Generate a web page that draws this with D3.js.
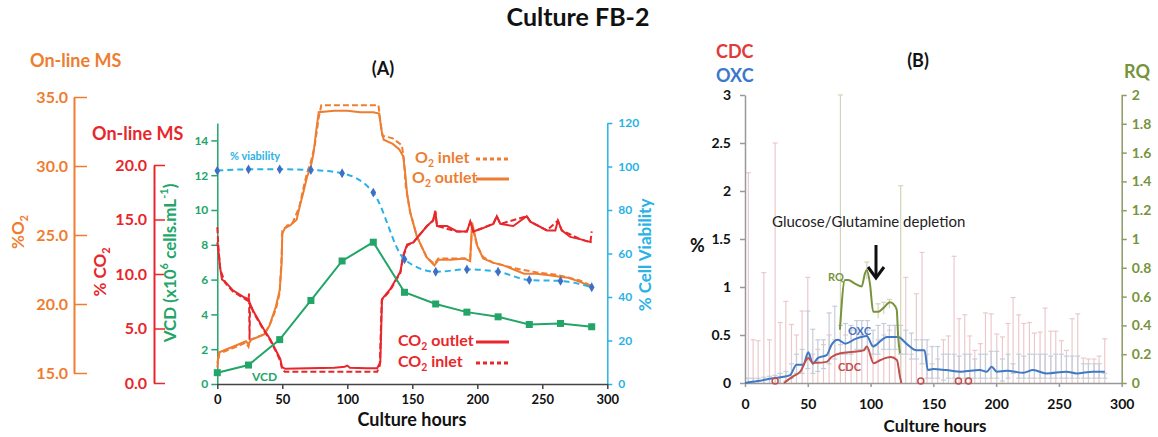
<!DOCTYPE html>
<html>
<head>
<meta charset="utf-8">
<script src="https://cdn.jsdelivr.net/npm/d3@7"></script>
<style>
  body { margin: 0; background: #fff; }
  text { font-family: Lato, "Open Sans", sans-serif; }
</style>
</head>
<body>
<div id="graph"></div>
<script>
// ---- panel A data ----
const sampleHours = [0, 24, 48, 72, 96, 120, 144, 168, 192, 216, 240, 264, 288]
const vcd = [0.65, 1.09, 2.55, 4.8, 7.07, 8.15, 5.27, 4.6, 4.13, 3.86, 3.42, 3.48, 3.29]
const viability = [98.1, 98.7, 98.7, 98.4, 96.9, 88.0, 57.3, 51.6, 52.7, 51.6, 47.8, 47.4, 44.5]

// on-line MS, [hour, %]
const o2Outlet = [[0,15.7],[1.5,16.5],[12,16.9],[22,17.3],[24,17.1],[26,17.4],[36,17.8],[40,18.4],[45,19.8],[48,21.0],[49.5,23.0],[50,25.1],[52,25.5],[56,25.7],[61,26.1],[64,27.3],[66,28.0],[69,29.2],[72,30.0],[74,30.9],[76,32.5],[78,33.9],[90,34.0],[100,34.0],[110,33.9],[120,33.9],[124.5,33.8],[126.5,32.5],[128,31.9],[135,31.6],[140,31.2],[143,30.7],[144.5,29.5],[146,28.0],[148.5,26.6],[153.5,24.9],[161,23.4],[167,22.8],[170,23.2],[180,23.2],[190,23.3],[194.5,23.1],[196,25.9],[200,24.2],[204.5,23.3],[212,23.0],[220,22.8],[228,22.5],[236,22.2],[245,22.2],[254,22.1],[262,22.0],[270,21.9],[279,21.6],[288,21.25]]
const o2Inlet = [[0,15.4],[1.5,16.4],[12,16.8],[22,17.2],[24,16.9],[25,17.4],[36,17.8],[40,18.4],[45,19.6],[48,20.8],[49.5,23.5],[50,25.3],[54,25.7],[58,25.9],[63,27.0],[66,28.3],[69,29.5],[72,30.3],[75,31.5],[78,33.5],[80,34.4],[124,34.4],[125,33.5],[127,32.2],[135,32.0],[142,31.5],[143.5,30.5],[145,28.5],[148,26.8],[153.5,24.9],[161,23.4],[167,22.9],[170,23.3],[194.5,23.3],[196,25.6],[200,24.2],[204.5,23.4],[212,23.0],[228,22.6],[245,22.3],[262,22.1],[279,21.7],[288,21.3]]
const co2Outlet = [[0,12.9],[1,12.0],[2.3,10.5],[3.6,9.5],[6,9.3],[12,8.5],[20,7.9],[23.8,7.7],[25.4,7.2],[27.7,6.6],[35.4,5.0],[40.8,4.0],[45.9,2.8],[48.5,2.2],[49.8,1.45],[52.3,1.3],[70,1.35],[90,1.4],[98,1.5],[100,1.6],[102,1.4],[115,1.35],[123,1.35],[125.4,1.9],[126.7,7.7],[133,8.6],[140.8,10.2],[143,11.7],[146,12.7],[150.8,12.9],[161.3,14.4],[166,14.9],[167.7,15.8],[169,14.4],[176.7,14.4],[184.4,13.9],[192,13.9],[194.6,14.8],[197,13.9],[202,14.1],[212.3,14.6],[215,15.3],[217.7,14.6],[227.7,14.4],[238,15.3],[240.8,14.8],[253.6,14.0],[260,14.0],[262,14.9],[265,14.0],[271.5,13.4],[279,13.2],[288,12.9]]
const co2Inlet = [[0,14.3],[1,12.2],[2.3,10.4],[6,9.2],[12,8.4],[20,7.8],[24,7.5],[24.4,8.2],[24.8,4.0],[25.2,7.3],[27.7,6.5],[35.4,4.9],[40.8,3.9],[45.9,2.7],[48.5,2.0],[50,1.2],[52,1.04],[123,1.04],[125,1.6],[126.5,7.6],[133,8.5],[140.8,10.1],[143,11.6],[146,12.6],[150.8,12.9],[161.3,14.4],[166,14.9],[167.7,15.7],[169,14.4],[184.4,13.9],[192,13.9],[194.6,14.8],[197,13.9],[212.3,14.6],[215,15.3],[217.7,14.6],[238,15.3],[240.8,14.8],[253.6,14.0],[262,14.9],[265,14.0],[279,13.2],[287,12.9],[288,13.9]]

// ---- panel B data ----
const oxc = [[0,0.0],[10,0.02],[22.5,0.05],[30.5,0.065],[36,0.083],[41,0.19],[46.4,0.19],[50.4,0.32],[54,0.2],[58,0.26],[65,0.29],[69,0.4],[74,0.45],[80,0.41],[88,0.46],[97,0.49],[102,0.38],[109,0.45],[113,0.48],[122,0.48],[128.5,0.41],[136.5,0.34],[143,0.34],[145.6,0.135],[150,0.146],[160,0.135],[172.5,0.118],[187,0.135],[192.5,0.118],[196.4,0.17],[200.4,0.118],[208.4,0.128],[221.6,0.107],[229.5,0.135],[240,0.1],[256,0.118],[264,0.1],[277,0.118],[286.6,0.118]]
const cdc = [[31,0],[38,0.066],[44,0.118],[50.4,0.26],[54,0.21],[57,0.21],[65,0.22],[69,0.27],[76,0.31],[86.5,0.325],[94.5,0.34],[97,0.38],[102.5,0.205],[108,0.24],[116,0.27],[121,0.24],[123.4,0.066],[124.5,0]]
const cdcBlips = [24, 140, 170, 178]
const rq = [[75.6,0.37],[79.6,0.715],[82.2,0.715],[87.6,0.69],[92.9,0.67],[95.5,0.76],[96.9,0.785],[99.5,0.69],[102.1,0.495],[106.1,0.495],[110.1,0.52],[115.4,0.56],[118,0.55],[120.8,0.51],[122,0.32],[123.4,0.206]]

// error bars (hour, CDC upper, OXC lower, OXC upper)
const errHours = [2.7,6.5,10.5,15,19.5,24,28,32.5,37,41,45.5,50,54,58,62.5,67,71.5,76,80,84.5,89,93,97.5,102,106,110.5,115,119.5,124,128,132.5,136.5,141,145,149,153.5,158,162,166.5,170.5,175,179,183,187.5,191.5,196,200.5,205,209.5,213.5,218,222,226.5,230.5,235,239,243.5,247.5,252,256,260.5,265,269.5,273.5,278,282,286.5]
const cdcErrHi = [2.19,0.45,0.44,1.15,0.45,2.5,0.63,0.85,0.61,0.5,0.75,1.1,0.3,0.35,0.4,0.5,0.45,0.4,0.5,0.55,0.55,0.5,0.55,0.4,0.45,0.5,0.55,0.6,0.3,1.1,0.3,0.93,1.36,0.3,0.2,0.25,0.45,0.49,1.32,0.67,0.71,0.49,0.34,0.41,0.73,0.72,0.51,0.48,0.62,0.89,0.71,0.62,0.63,0.52,0.53,0.78,0.54,0.54,0.44,0.34,0.67,0.72,0.26,0.25,0.25,0.28,0.46]
const oxcErrLo = [0,0,0,0,0,0,0,0.02,0.05,0.1,0.1,0.15,0.1,0.12,0.15,0.2,0.25,0.3,0.3,0.3,0.35,0.35,0.35,0.3,0.3,0.35,0.35,0.35,0.3,0.3,0.25,0.25,0.2,0.05,0.05,0.05,0.03,0.05,0.05,0.05,0.05,0.05,0.05,0.05,0.05,0.05,0.05,0.02,0.05,0.1,0.05,0.05,0.05,0.05,0.05,0.05,0.05,0.05,0.05,0.05,0.05,0.05,0.05,0.05,0.05,0.05,0.05]
const oxcErrHi = [0.05,0.05,0.05,0.06,0.07,0.08,0.1,0.12,0.2,0.3,0.35,0.75,0.56,0.45,0.45,0.73,0.8,0.6,0.62,0.6,0.65,0.65,0.65,0.55,0.6,0.62,0.6,0.6,0.6,0.55,0.52,0.45,0.45,0.45,0.38,0.38,0.3,0.3,0.3,0.28,0.3,0.3,0.25,0.3,0.3,0.33,0.33,0.25,0.3,0.2,0.3,0.28,0.3,0.3,0.3,0.3,0.28,0.3,0.3,0.28,0.28,0.28,0.2,0.2,0.2,0.2,0.1]
const rqErrHours = [76, 97, 106, 110.5, 115, 124]
const rqErrLo = [0.3, 0.72, 0.45, 0.48, 0.52, 0]
const rqErrHi = [2.0, 0.84, 0.55, 0.56, 0.58, 1.37]

const hourTicks = [0, 50, 100, 150, 200, 250, 300]

const orange = '#ee7d31'
const red = '#e8262b'
const green = '#22a567'
const sky = '#29b2e6'
const oxcBlue = '#3f78c4'
const cdcRed = '#c0504d'
const rqGreen = '#77933c'

const svg = d3.select('#graph').append('svg')
  .attr('width', 1158)
  .attr('height', 437)
  .style('background', '#fff')

// scales, panel A
const xA = d3.scaleLinear().domain([0, 300]).range([217.3, 607.3])
const yVcd = d3.scaleLinear().domain([0, 15]).range([384, 123])
const yVia = d3.scaleLinear().domain([0, 120]).range([384, 123])
const yO2 = d3.scaleLinear().domain([15, 35]).range([373, 97])
const yCo2 = d3.scaleLinear().domain([0, 20]).range([383, 165])

// scales, panel B
const xB = d3.scaleLinear().domain([0, 300]).range([745, 1121.7])
const yB = d3.scaleLinear().domain([0, 3]).range([383, 95])
const yRq = d3.scaleLinear().domain([0, 2]).range([383, 95])

// text with sub / superscripts
const rich = (t, parts, fs) => {
  let shift = 0
  parts.forEach(([s, k]) => {
    const sp = t.append('tspan').text(s)
    let want = k === 'sub' ? fs * 0.3 : k === 'sup' ? -fs * 0.4 : 0
    if (want !== shift) sp.attr('dy', want - shift)
    shift = want
    if (k) sp.attr('font-size', fs * 0.65)
  })
  return t
}

const label = (x, y, txt, size, color, weight, anchor) => {
  return svg.append('text')
    .attr('x', x).attr('y', y)
    .attr('font-size', size)
    .attr('font-weight', weight || 'bold')
    .attr('fill', color)
    .attr('text-anchor', anchor || 'start')
    .attr('dominant-baseline', 'middle')
    .text(txt)
}

const vlabel = (x, y, parts, size, color) => {
  const t = svg.append('text')
    .attr('transform', `translate(${x},${y}) rotate(-90)`)
    .attr('font-size', size)
    .attr('font-weight', 'bold')
    .attr('fill', color)
    .attr('text-anchor', 'middle')
    .attr('dominant-baseline', 'middle')
  return rich(t, parts, size)
}

const styleAxis = (g, color, size, textColor) => {
  g.select('.domain').attr('stroke', color).attr('stroke-width', 1.5)
  g.selectAll('.tick line').attr('stroke', color).attr('stroke-width', 1.5)
  g.selectAll('.tick text')
    .attr('fill', textColor || color)
    .attr('font-size', size)
    .attr('font-weight', 'bold')
    .attr('font-family', 'Lato, "Open Sans", sans-serif')
}

// title
label(578, 20, 'Culture FB-2', 25, '#111', 'bold', 'middle')
label(383, 70, '(A)', 18, '#111', 'bold', 'middle')
label(918, 62, '(B)', 18, '#111', 'bold', 'middle')

// ================= panel A =================

// O2 axis (far left)
const gO2 = svg.append('g').attr('transform', 'translate(74,0)')
  .call(d3.axisLeft(yO2).tickValues([15, 20, 25, 30, 35]).tickSizeInner(-13).tickSizeOuter(0).tickPadding(6).tickFormat(d3.format('.1f')))
styleAxis(gO2, orange, 16)
gO2.select('.domain').attr('stroke-width', 2)
label(30, 62, 'On-line MS', 18, orange)
vlabel(20, 232, [['%O', null], ['2', 'sub']], 17, orange)

// CO2 axis
const gCo2 = svg.append('g').attr('transform', 'translate(154,0)')
  .call(d3.axisLeft(yCo2).tickValues([0, 5, 10, 15, 20]).tickSizeInner(-11).tickSizeOuter(0).tickPadding(7).tickFormat(d3.format('.1f')))
styleAxis(gCo2, red, 16)
gCo2.select('.domain').attr('stroke-width', 2)
label(92, 135, 'On-line MS', 18, red)
vlabel(102, 272, [['% CO', null], ['2', 'sub']], 17, red)

// VCD axis
const gVcd = svg.append('g').attr('transform', 'translate(217.3,0)')
  .call(d3.axisLeft(yVcd).tickValues([0, 2, 4, 6, 8, 10, 12, 14]).tickSize(6).tickSizeOuter(0).tickPadding(3))
styleAxis(gVcd, green, 12)
vlabel(172, 263, [['VCD (x10', null], ['6', 'sup'], [' cells.mL', null], ['-1', 'sup'], [')', null]], 17, green)

// viability axis
const gVia = svg.append('g').attr('transform', 'translate(607.3,0)')
  .call(d3.axisRight(yVia).tickValues([0, 20, 40, 60, 80, 100, 120]).tickSize(5).tickSizeOuter(0).tickPadding(6))
styleAxis(gVia, sky, 12)
vlabel(647, 255, [['% Cell Viability', null]], 17, sky)

// hours axis
const gxA = svg.append('g').attr('transform', 'translate(0,384)')
  .call(d3.axisBottom(xA).tickValues(hourTicks).tickSize(5).tickSizeOuter(0).tickPadding(6))
styleAxis(gxA, '#444', 13, '#111')
label(412, 421, 'Culture hours', 18, '#111', 'bold', 'middle')

// lines
const lineA = (ys) => d3.line().x(d => xA(d[0])).y(d => ys(d[1]))

svg.append('path').datum(o2Outlet)
  .attr('d', lineA(yO2))
  .attr('fill', 'none').attr('stroke', orange).attr('stroke-width', 2)
svg.append('path').datum(o2Inlet)
  .attr('d', lineA(yO2))
  .attr('fill', 'none').attr('stroke', orange).attr('stroke-width', 2).attr('stroke-dasharray', '6,3')

svg.append('path').datum(co2Outlet)
  .attr('d', lineA(yCo2))
  .attr('fill', 'none').attr('stroke', red).attr('stroke-width', 2)
svg.append('path').datum(co2Inlet)
  .attr('d', lineA(yCo2))
  .attr('fill', 'none').attr('stroke', red).attr('stroke-width', 2).attr('stroke-dasharray', '6,3')

// viability dashed + diamonds
const viaPts = sampleHours.map((h, i) => [h, viability[i]])
svg.append('path').datum(viaPts)
  .attr('d', d3.line().curve(d3.curveMonotoneX).x(d => xA(d[0])).y(d => yVia(d[1])))
  .attr('fill', 'none').attr('stroke', sky).attr('stroke-width', 2).attr('stroke-dasharray', '6,4')
svg.selectAll('.via').data(viaPts).enter().append('path')
  .attr('class', 'via')
  .attr('transform', d => `translate(${xA(d[0])},${yVia(d[1])})`)
  .attr('d', d3.symbol(d3.symbolDiamond).size(28))
  .attr('fill', '#3d6fc6')

// VCD line + squares
const vcdPts = sampleHours.map((h, i) => [h, vcd[i]])
svg.append('path').datum(vcdPts)
  .attr('d', lineA(yVcd))
  .attr('fill', 'none').attr('stroke', green).attr('stroke-width', 2)
svg.selectAll('.vcd').data(vcdPts).enter().append('rect')
  .attr('class', 'vcd')
  .attr('x', d => xA(d[0]) - 3.5).attr('y', d => yVcd(d[1]) - 3.5)
  .attr('width', 7).attr('height', 7)
  .attr('fill', green)

label(230, 157, '% viability', 11, sky)
label(252, 378, 'VCD', 12, green)

// legend
const legend = (x, y, parts, color, dashed) => {
  const t = svg.append('text').attr('x', x).attr('y', y)
    .attr('font-size', 16).attr('font-weight', 'bold').attr('fill', color)
    .attr('dominant-baseline', 'middle')
  rich(t, parts, 16)
  svg.append('line')
    .attr('x1', 476).attr('x2', 509).attr('y1', y).attr('y2', y)
    .attr('stroke', color).attr('stroke-width', 3)
    .attr('stroke-dasharray', dashed ? '4,3' : null)
}
legend(415, 159, [['O', null], ['2', 'sub'], [' inlet', null]], orange, true)
legend(412, 179, [['O', null], ['2', 'sub'], [' outlet', null]], orange, false)
legend(398, 342, [['CO', null], ['2', 'sub'], [' outlet', null]], red, false)
legend(398, 363, [['CO', null], ['2', 'sub'], [' inlet', null]], red, true)

// ================= panel B =================

const errG = svg.append('g')
const bar = (x, y0, y1, color) => {
  errG.append('line').attr('x1', x).attr('x2', x).attr('y1', y0).attr('y2', y1)
    .attr('stroke', color).attr('stroke-width', 1.2)
  errG.append('line').attr('x1', x - 2.5).attr('x2', x + 2.5).attr('y1', y1).attr('y2', y1)
    .attr('stroke', color).attr('stroke-width', 1.2)
}
errHours.forEach((h, i) => {
  bar(xB(h), yB(0), yB(cdcErrHi[i]), '#ecc9cc')
})
errHours.forEach((h, i) => {
  bar(xB(h), yB(oxcErrLo[i]), yB(oxcErrHi[i]), '#c5cdd8')
  if (oxcErrLo[i] > 0) {
    errG.append('line').attr('x1', xB(h) - 2.5).attr('x2', xB(h) + 2.5)
      .attr('y1', yB(oxcErrLo[i])).attr('y2', yB(oxcErrLo[i]))
      .attr('stroke', '#c5cdd8').attr('stroke-width', 1.2)
  }
})
rqErrHours.forEach((h, i) => {
  bar(xB(h), yRq(rqErrLo[i]), yRq(rqErrHi[i]), '#d6d3b8')
})

const gyB = svg.append('g').attr('transform', 'translate(745,0)')
  .call(d3.axisLeft(yB).tickValues([0, 0.5, 1, 1.5, 2, 2.5, 3]).tickSize(5).tickSizeOuter(0).tickPadding(9).tickFormat(d3.format('~g')))
styleAxis(gyB, '#999', 14, '#111')

const gxB = svg.append('g').attr('transform', 'translate(0,383)')
  .call(d3.axisBottom(xB).tickValues(hourTicks).tickSize(4).tickSizeOuter(0).tickPadding(12))
styleAxis(gxB, '#999', 14, '#111')

const gRq = svg.append('g').attr('transform', 'translate(1121.7,0)')
  .call(d3.axisRight(yRq).tickValues([0, 0.2, 0.4, 0.6, 0.8, 1, 1.2, 1.4, 1.6, 1.8, 2]).tickSize(5).tickSizeOuter(0).tickPadding(5).tickFormat(d3.format('~g')))
styleAxis(gRq, '#8c9a66', 14, rqGreen)

const lineB = (ys) => d3.line().curve(d3.curveMonotoneX).x(d => xB(d[0])).y(d => ys(d[1]))

svg.append('path').datum(oxc)
  .attr('d', lineB(yB))
  .attr('fill', 'none').attr('stroke', oxcBlue).attr('stroke-width', 2)
svg.append('path').datum(cdc)
  .attr('d', lineB(yB))
  .attr('fill', 'none').attr('stroke', cdcRed).attr('stroke-width', 2)
svg.selectAll('.blip').data(cdcBlips).enter().append('circle')
  .attr('class', 'blip')
  .attr('cx', d => xB(d)).attr('cy', yB(0.02)).attr('r', 3)
  .attr('fill', 'none').attr('stroke', cdcRed).attr('stroke-width', 1.5)
svg.append('path').datum(rq)
  .attr('d', lineB(yRq))
  .attr('fill', 'none').attr('stroke', rqGreen).attr('stroke-width', 2)

label(716, 53, 'CDC', 18, '#e03a3a')
label(716, 77, 'OXC', 18, '#3a78c9')
label(1124, 73, 'RQ', 18, rqGreen)
label(690, 247, '%', 18, '#111')
label(935, 428, 'Culture hours', 17, '#111', 'bold', 'middle')

label(828, 278, 'RQ', 11, rqGreen)
label(848, 332, 'OXC', 11, oxcBlue)
label(838, 368, 'CDC', 11, cdcRed)

// annotation
svg.append('text')
  .attr('x', 772).attr('y', 223)
  .attr('font-size', 15).attr('fill', '#222')
  .attr('font-family', '"Open Sans", sans-serif')
  .attr('dominant-baseline', 'middle')
  .text('Glucose/Glutamine depletion')
svg.append('line')
  .attr('x1', 876).attr('x2', 876).attr('y1', 245).attr('y2', 276)
  .attr('stroke', '#111').attr('stroke-width', 3)
svg.append('path')
  .attr('d', 'M868,267 L876,278 L884,267')
  .attr('fill', 'none').attr('stroke', '#111').attr('stroke-width', 3)
</script>
</body>
</html>
